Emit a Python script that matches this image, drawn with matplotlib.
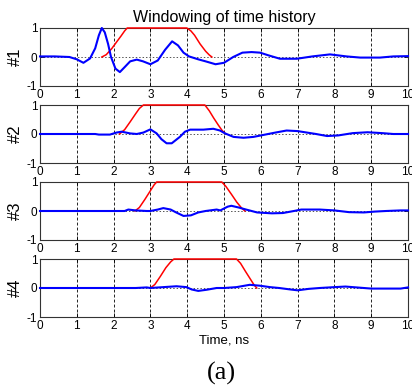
import matplotlib
matplotlib.use("Agg")
import matplotlib.pyplot as plt
import numpy as np

# ---- data ----
panel_labels = ["#1", "#2", "#3", "#4"]
x_ticks = [0, 1, 2, 3, 4, 5, 6, 7, 8, 9, 10]
y_ticks = [-1, 0, 1]

blue1_t = [0, 0.4, 0.8, 1.0, 1.18, 1.36, 1.5, 1.6, 1.68, 1.76, 1.85, 1.93, 2.05, 2.17, 2.3, 2.45, 2.63, 2.8, 3.0, 3.2, 3.4, 3.59, 3.75, 3.9, 4.05, 4.3, 4.5, 4.77, 5.0, 5.25, 5.5, 5.75, 5.98, 6.2, 6.52, 6.98, 7.4, 7.88, 8.33, 8.7, 9.24, 9.6, 10]
blue1_y = [0.02, 0.02, 0.0, -0.08, -0.2, -0.05, 0.3, 0.75, 1.0, 0.85, 0.45, 0.0, -0.4, -0.52, -0.35, -0.15, -0.09, -0.15, -0.25, -0.12, 0.25, 0.54, 0.4, 0.15, 0.02, -0.08, -0.15, -0.25, -0.2, 0.0, 0.15, 0.17, 0.15, 0.06, -0.06, -0.06, 0.02, 0.09, 0.02, -0.02, -0.02, 0.02, 0.03]
red1_t = [1.68, 1.8, 1.95, 2.1, 2.2, 2.3, 2.37, 3.99, 4.1, 4.2, 4.35, 4.5, 4.6, 4.67]
red1_y = [0.0, 0.08, 0.29, 0.55, 0.72, 0.9, 1.0, 1.0, 0.9, 0.75, 0.45, 0.2, 0.07, 0.0]

blue2_t = [0, 1.5, 1.6, 1.9, 2.08, 2.22, 2.45, 2.63, 2.81, 3.0, 3.17, 3.3, 3.44, 3.58, 3.8, 3.94, 4.08, 4.44, 4.71, 4.89, 5.03, 5.26, 5.53, 5.8, 6.0, 6.4, 6.7, 7.0, 7.5, 7.8, 8.1, 8.5, 8.9, 9.3, 9.6, 10]
blue2_y = [0.0, 0.0, -0.02, -0.02, 0.05, 0.08, 0.02, 0.0, 0.05, 0.16, 0.02, -0.18, -0.32, -0.32, -0.1, 0.08, 0.15, 0.15, 0.18, 0.12, 0.02, -0.1, -0.13, -0.1, -0.05, 0.05, 0.12, 0.1, 0.0, -0.07, -0.05, 0.03, 0.06, 0.03, 0.0, 0.0]
red2_t = [2.16, 2.3, 2.45, 2.6, 2.7, 2.81, 4.48, 4.6, 4.72, 4.85, 4.95, 5.03]
red2_y = [0.0, 0.15, 0.42, 0.7, 0.88, 1.0, 1.0, 0.8, 0.55, 0.3, 0.12, 0.02]

blue3_t = [0, 2.3, 2.4, 2.6, 2.9, 3.0, 3.2, 3.35, 3.55, 3.7, 3.9, 4.1, 4.3, 4.5, 4.8, 4.9, 5.1, 5.2, 5.4, 5.6, 5.9, 6.3, 6.6, 6.9, 7.1, 7.6, 8.0, 8.4, 8.8, 9.1, 9.4, 9.8, 10]
blue3_y = [0.0, 0.0, 0.05, 0.02, 0.0, 0.0, 0.05, 0.1, 0.05, -0.05, -0.17, -0.15, -0.05, 0.0, 0.05, 0.02, 0.15, 0.18, 0.12, 0.05, -0.05, -0.08, -0.07, 0.0, 0.05, 0.05, 0.02, -0.04, -0.05, -0.02, 0.0, 0.02, 0.02]
red3_t = [2.58, 2.7, 2.85, 3.0, 3.1, 3.17, 4.94, 5.05, 5.2, 5.35, 5.48, 5.57]
red3_y = [0.0, 0.12, 0.4, 0.7, 0.9, 1.0, 1.0, 0.85, 0.58, 0.3, 0.1, 0.0]

blue4_t = [0, 2.6, 2.9, 3.0, 3.35, 3.71, 3.98, 4.12, 4.3, 4.53, 4.8, 5.0, 5.34, 5.7, 5.97, 6.25, 6.5, 6.8, 7.0, 7.3, 7.6, 8.0, 8.3, 8.8, 9.0, 9.8, 10]
blue4_y = [0.0, 0.0, 0.02, 0.0, 0.03, 0.06, 0.03, -0.05, -0.1, -0.06, 0.0, 0.0, 0.03, 0.11, 0.08, 0.03, 0.0, -0.05, -0.08, -0.03, 0.0, 0.03, 0.05, 0.0, -0.02, -0.02, 0.02]
red4_t = [3.0, 3.12, 3.27, 3.42, 3.55, 3.64, 5.34, 5.45, 5.58, 5.72, 5.82, 5.89]
red4_y = [0.0, 0.12, 0.4, 0.7, 0.9, 1.0, 1.0, 0.85, 0.58, 0.3, 0.1, 0.0]

blues = [(blue1_t, blue1_y), (blue2_t, blue2_y), (blue3_t, blue3_y), (blue4_t, blue4_y)]
reds = [(red1_t, red1_y), (red2_t, red2_y), (red3_t, red3_y), (red4_t, red4_y)]

title = "Windowing of time history"
xlabel = "Time, ns"
caption = "(a)"

plt.rcParams['font.family'] = ['Liberation Sans', 'DejaVu Sans']

W, H = 412, 387
fig = plt.figure(figsize=(W / 100, H / 100), dpi=100)
left, right = 40, 408
tops = [28, 105, 182, 259]
bottoms = [86, 163, 240, 317]

for i in range(4):
    ax = fig.add_axes([left / W, 1 - bottoms[i] / H, (right - left) / W, (bottoms[i] - tops[i]) / H])
    ax.set_xlim(0, 10)
    ax.set_ylim(-1, 1)
    ax.set_xticks(x_ticks)
    ax.set_yticks(y_ticks)
    ax.set_xticklabels([str(v) for v in x_ticks], fontsize=8.5)
    ax.set_yticklabels([str(v) for v in y_ticks], fontsize=8.5)
    ax.tick_params(direction='in', length=3, width=0.6, pad=2, top=True, right=True, colors='black')
    for v in x_ticks[1:-1]:
        ax.axvline(v, color='black', lw=0.6, ls=(0, (3.5, 2.5)), zorder=1)
    ax.axhline(0, color='#555555', lw=0.7, ls=(0, (1.5, 2)), zorder=1)
    for s in ax.spines.values():
        s.set_linewidth(0.8)
        s.set_color('#333333')
    rt, ry = reds[i]
    ax.plot(rt, ry, color='red', lw=1.1, zorder=2.7, clip_on=False)
    bt, by = blues[i]
    ax.plot(bt, by, color='#0000ff', lw=1.5, zorder=3, clip_on=False)
    ax.set_ylabel(panel_labels[i], fontsize=12, labelpad=3)
    if i == 0:
        ax.set_title(title, fontsize=11.5, pad=4)
    if i == 3:
        ax.set_xlabel(xlabel, fontsize=9.5, labelpad=2)

fig.text(221 / W, 1 - 373 / H, caption, fontsize=19, ha='center', va='center', family='Liberation Serif')

fig.savefig("out.png", dpi=100)
